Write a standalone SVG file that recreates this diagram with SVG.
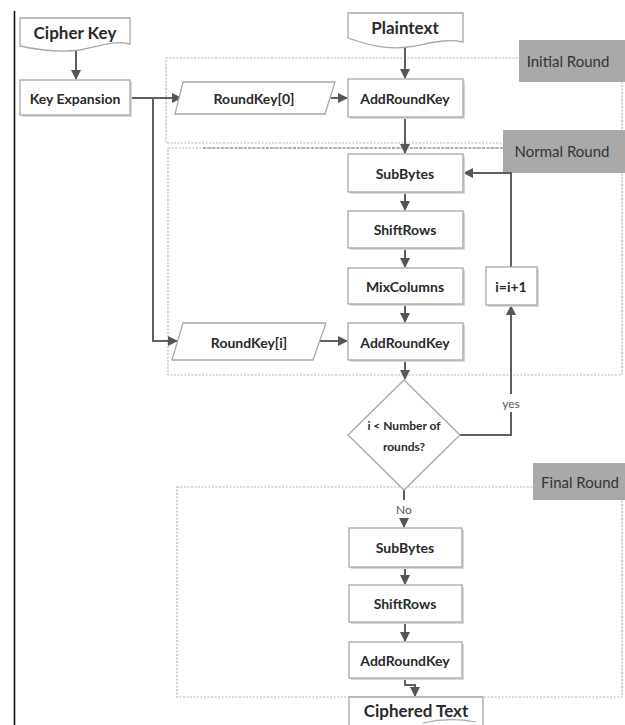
<svg xmlns="http://www.w3.org/2000/svg" width="625" height="725" viewBox="0 0 625 725">
<style>
.box{fill:#fff;stroke:#a8a8a8;stroke-width:1.3}
.shadow{fill:#d8d8d8}
.t{font-family:Lato,"Liberation Sans",sans-serif;font-weight:bold;fill:#2a2a2a;text-anchor:middle;dominant-baseline:central}
.big{font-size:17px}
.mid{font-size:14px}
.sm{font-size:12px}
.lbl{font-family:Lato,"Liberation Sans",sans-serif;font-size:15px;fill:#333;text-anchor:middle;dominant-baseline:central}
.tag{fill:#a9a9a9}
.region{fill:none;stroke:#b5b5b5;stroke-width:1.2;stroke-dasharray:2 1.5}
.conn{fill:none;stroke:#5f5f5f;stroke-width:2}
.note{font-family:Lato,"Liberation Sans",sans-serif;font-size:12px;fill:#555;text-anchor:middle;dominant-baseline:central}
</style>
<defs>
<marker id="arr" viewBox="0 0 10 10" refX="9" refY="5" markerWidth="5" markerHeight="5" orient="auto" markerUnits="strokeWidth">
<path d="M0,0 L10,5 L0,10 Z" fill="#555"/>
</marker>
</defs>
<rect width="625" height="725" fill="#fff"/>
<line x1="14.5" y1="11" x2="14.5" y2="725" stroke="#111" stroke-width="1.6"/>

<g id="regions">
<rect class="region" x="166" y="58" width="456" height="85"/>
<rect class="region" x="168" y="148" width="454" height="227"/>
<line x1="203" y1="148" x2="503" y2="148" stroke="#777" stroke-width="1.2" stroke-dasharray="3 1.5"/>
<rect class="region" x="177" y="487" width="445" height="210"/>
</g>

<g id="tag-initial"><rect class="tag" x="519" y="40" width="106" height="42"/><text class="lbl" x="568" y="61">Initial Round</text></g>
<g id="tag-normal"><rect class="tag" x="503" y="130" width="122" height="43"/><text class="lbl" x="562" y="151">Normal Round</text></g>
<g id="tag-final"><rect class="tag" x="533" y="463" width="92" height="37"/><text class="lbl" x="580" y="482">Final Round</text></g>

<g id="connectors">
<line class="conn" x1="76" y1="49" x2="76" y2="79" marker-end="url(#arr)"/>
<polyline class="conn" points="130,98 181,98" marker-end="url(#arr)"/>
<polyline class="conn" points="153,98 153,341 177,341" marker-end="url(#arr)"/>
<line class="conn" x1="405" y1="45" x2="405" y2="78" marker-end="url(#arr)"/>
<line class="conn" x1="331" y1="98" x2="347" y2="98" marker-end="url(#arr)"/>
<line class="conn" x1="405" y1="117" x2="405" y2="153" marker-end="url(#arr)"/>
<line class="conn" x1="405" y1="192" x2="405" y2="210" marker-end="url(#arr)"/>
<line class="conn" x1="405" y1="248" x2="405" y2="267" marker-end="url(#arr)"/>
<line class="conn" x1="405" y1="304" x2="405" y2="322" marker-end="url(#arr)"/>
<line class="conn" x1="318" y1="341" x2="347" y2="341" marker-end="url(#arr)"/>
<line class="conn" x1="405" y1="360" x2="405" y2="379" marker-end="url(#arr)"/>
<polyline class="conn" points="460,435 511,435 511,412"/>
<line class="conn" x1="511" y1="394" x2="511" y2="306" marker-end="url(#arr)"/>
<polyline class="conn" points="511,267 511,173 464,173" marker-end="url(#arr)"/>
<line class="conn" x1="404" y1="490" x2="404" y2="500"/>
<line class="conn" x1="404" y1="518" x2="404" y2="527" marker-end="url(#arr)"/>
<line class="conn" x1="405" y1="567" x2="405" y2="584" marker-end="url(#arr)"/>
<line class="conn" x1="405" y1="622" x2="405" y2="641" marker-end="url(#arr)"/>
<polyline class="conn" points="405,678 405,685 415,685 415,696" marker-end="url(#arr)"/>
<text class="note" x="511" y="403">yes</text>
<text class="note" x="404" y="509">No</text>
</g>

<g id="cipher-key">
<path class="box" d="M20,18 H130 V44 C115,40 100,46 80,50 C58,53 38,50 20,46 Z"/>
<text class="t big" x="75" y="32">Cipher Key</text>
</g>
<g id="key-expansion">
<rect class="shadow" x="22" y="82" width="110" height="35"/>
<rect class="box" x="20" y="80" width="110" height="35"/>
<text class="t mid" x="75" y="98">Key Expansion</text>
</g>
<g id="roundkey0">
<path class="box" d="M183,82 H335 L325,114 H175 Z"/>
<text class="t mid" x="254" y="98">RoundKey[0]</text>
</g>
<g id="plaintext">
<path class="box" d="M348,13 H463 V42 C445,38 428,44 408,47 C385,50 365,44 348,38 Z"/>
<text class="t big" x="405" y="27">Plaintext</text>
</g>
<g id="addroundkey0">
<rect class="shadow" x="350" y="81" width="115" height="38"/>
<rect class="box" x="348" y="79" width="115" height="38"/>
<text class="t mid" x="405" y="98">AddRoundKey</text>
</g>

<g id="subbytes1">
<rect class="shadow" x="350" y="156" width="115" height="38"/>
<rect class="box" x="348" y="154" width="115" height="38"/>
<text class="t mid" x="405" y="173">SubBytes</text>
</g>
<g id="shiftrows1">
<rect class="shadow" x="350" y="213" width="115" height="37"/>
<rect class="box" x="348" y="211" width="115" height="37"/>
<text class="t mid" x="405" y="229">ShiftRows</text>
</g>
<g id="mixcolumns">
<rect class="shadow" x="350" y="270" width="115" height="36"/>
<rect class="box" x="348" y="268" width="115" height="36"/>
<text class="t mid" x="405" y="286">MixColumns</text>
</g>
<g id="roundkeyi">
<path class="box" d="M183,323 H326 L313,360 H172 Z"/>
<text class="t mid" x="249" y="342">RoundKey[i]</text>
</g>
<g id="addroundkey1">
<rect class="shadow" x="350" y="325" width="115" height="37"/>
<rect class="box" x="348" y="323" width="115" height="37"/>
<text class="t mid" x="405" y="342">AddRoundKey</text>
</g>
<g id="increment">
<rect class="shadow" x="488" y="269" width="51" height="38"/>
<rect class="box" x="486" y="267" width="51" height="38"/>
<text class="t mid" x="511" y="286">i=i+1</text>
</g>
<g id="decision">
<path class="box" d="M404,380 L460,435 L404,490 L348,435 Z"/>
<text class="t sm" x="404" y="425">i &lt; Number of</text>
<text class="t sm" x="404" y="446">rounds?</text>
</g>

<g id="subbytes2">
<rect class="shadow" x="351" y="530" width="113" height="39"/>
<rect class="box" x="349" y="528" width="113" height="39"/>
<text class="t mid" x="405" y="547">SubBytes</text>
</g>
<g id="shiftrows2">
<rect class="shadow" x="351" y="587" width="113" height="37"/>
<rect class="box" x="349" y="585" width="113" height="37"/>
<text class="t mid" x="405" y="603">ShiftRows</text>
</g>
<g id="addroundkey2">
<rect class="shadow" x="351" y="644" width="113" height="36"/>
<rect class="box" x="349" y="642" width="113" height="36"/>
<text class="t mid" x="405" y="660">AddRoundKey</text>
</g>
<g id="ciphered-text">
<path class="box" d="M349,697 H483 V727 H349 Z"/>
<path d="M423,723 C440,719 460,719 476,722" fill="none" stroke="#aaa" stroke-width="1.2"/>
<text class="t big" x="416" y="710">Ciphered Text</text>
</g>
</svg>
